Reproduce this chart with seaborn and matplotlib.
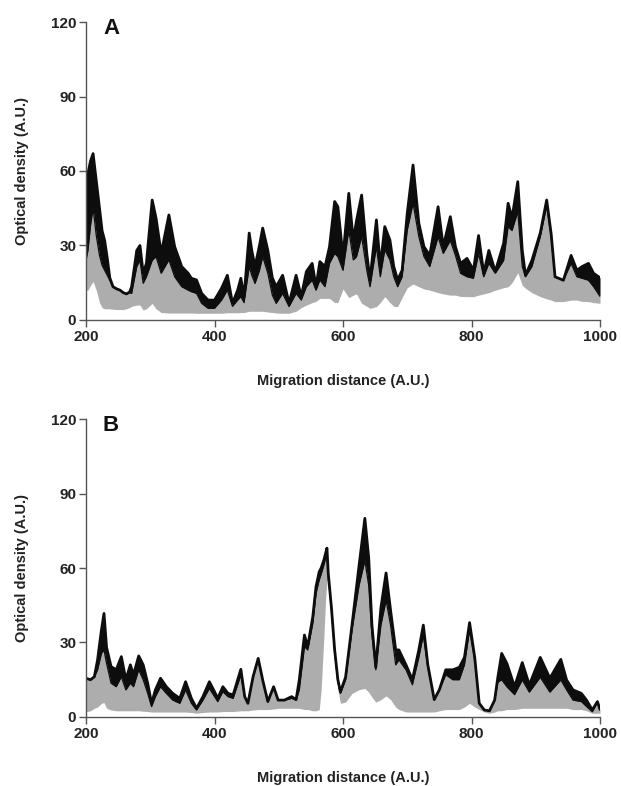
import numpy as np
import matplotlib
matplotlib.use("Agg")
import matplotlib.pyplot as plt
import seaborn as sns

# Densitometry traces.
# top = upper edge of the black band, mid = black/grey boundary, low = lower edge of the grey band

# Panel A
a_x = [200, 203, 207, 211, 216, 221, 225, 229, 233, 237,
       242, 248, 253, 258, 263, 268, 271, 279, 284, 289,
       294, 303, 309, 317, 329, 338, 349, 359, 364, 372,
       380, 390, 400, 411, 420, 428, 436, 441, 446, 454,
       458, 463, 470, 475, 483, 490, 496, 506, 516, 527,
       535, 543, 552, 558, 564, 572, 579, 587, 592, 600,
       609, 616, 621, 629, 637, 642, 652, 658, 665, 673,
       679, 685, 692, 700, 709, 718, 726, 735, 748, 756,
       767, 775, 783, 793, 803, 811, 819, 827, 837, 850,
       857, 863, 872, 879, 884, 894, 907, 917, 924, 930,
       943, 955, 964, 972, 982, 990, 1000]
a_top = [57, 59, 64, 67, 56, 45, 36, 32, 25, 17,
         13.4, 12.5, 12, 11, 10.5, 11.3, 13.4, 28, 30, 18.8,
         22.8, 48.3, 41, 26.8, 42.3, 29.5, 21.5, 18.8, 16.8, 16.1,
         10.7, 8, 8, 12.8, 18, 6.7, 12, 16.8, 9.4, 35,
         28, 21.5, 30, 37, 28, 17, 13.4, 18, 6.7, 18,
         9.4, 19.5, 22.8, 13.4, 23.5, 21.5, 29.5, 47.7, 45.6, 25.5,
         51, 32, 40, 50.3, 26.8, 16.1, 40.3, 21.5, 37.6, 32.2,
         21.5, 16.1, 20, 43, 62.4, 39, 29.5, 26, 45.6, 29.5,
         41.6, 29.5, 22.8, 24.8, 20, 34, 18.8, 28, 19.5, 30.9,
         47, 41, 55.7, 28, 18, 24, 35, 48.3, 34.6, 17.4,
         16, 26, 20, 21.5, 22.8, 18.8, 17]
a_mid = [24, 28, 38, 45, 34, 26, 22, 20, 18, 16,
         13.4, 12.5, 12, 11, 10.5, 11, 10.7, 21.5, 24, 14.8,
         17.4, 24, 25.5, 18.8, 24.2, 17.4, 13.4, 12, 11.4, 10.7,
         6.7, 4.7, 4.7, 8, 12, 5.5, 8, 9.4, 7, 21.5,
         18, 14.7, 20, 25.5, 18.8, 10, 6.7, 10.7, 5.4, 10.7,
         8, 13.4, 16, 12, 16.1, 13.4, 22.8, 26.8, 25.5, 20,
         36.2, 24.2, 25.5, 33.6, 20, 13.4, 29.5, 17.4, 28.2, 24.2,
         17.4, 13.4, 17.4, 36.2, 47, 33.6, 25.5, 21.5, 33.5, 26.8,
         32, 26, 18.8, 17.4, 16.8, 26.8, 17.4, 22.8, 18.8, 24,
         37.6, 36, 43.6, 21.5, 17.4, 21.5, 33.5, 46, 33.5, 17.4,
         16, 22.8, 17.4, 16.8, 16, 13.4, 9.5]
a_low = [12, 12, 14, 15.5, 12, 7, 5, 4.5, 4.5, 4.5,
         4.3, 4.2, 4.2, 4.2, 4.5, 5, 5.5, 6, 6, 4,
         4.5, 6.7, 4.5, 3, 2.8, 2.8, 2.8, 2.8, 2.8, 2.7,
         2.7, 2.7, 2.7, 2.7, 2.9, 2.9, 2.9, 3, 3, 3.5,
         3.5, 3.5, 3.5, 3.5, 3.2, 3, 2.8, 2.7, 2.7, 3.5,
         5, 6, 7, 7.5, 8.7, 8.7, 8.7, 7, 7, 12.5,
         9, 10, 10.5, 6.7, 5.5, 4.7, 5.4, 7, 9.4, 7,
         5.5, 5.4, 9, 13, 14.5, 13.4, 12.5, 12, 11, 10.5,
         10, 10, 9.5, 9.4, 9.4, 10, 10.5, 11, 12, 13,
         13.4, 15, 19, 14, 12.8, 11, 9.4, 8.5, 8, 7.4,
         7.4, 8, 8, 7.5, 7.4, 7, 6.7]

# Panel B
b_x = [200, 207, 213, 218, 224, 228, 232, 239, 247, 255, 262, 269, 274, 282, 289, 296,
       302, 308, 316, 325, 335, 346, 355, 364, 372, 382, 392, 400, 405, 413, 421, 429,
       441, 447, 452, 460, 468, 475, 483, 492, 499, 509, 520, 527, 532, 540, 545, 553,
       558, 563, 566, 570, 573, 575, 577, 582, 587, 592, 596, 604, 614, 625, 634, 640,
       645, 651, 659, 667, 674, 682, 687, 698, 708, 718, 725, 732, 742, 750, 760, 771,
       781, 789, 797, 805, 812, 820, 828, 836, 841, 847, 855, 867, 879, 890, 907, 922,
       939, 948, 958, 971, 979, 988, 996, 1000]
b_top = [15.6, 15, 16.2, 23, 35, 41.7, 28, 20.3, 19, 24.3, 15, 21, 17, 24.6, 21, 13.6,
         5.5, 10.9, 15.6, 12.2, 9.5, 7.5, 14.2, 7.5, 3.5, 8.2, 14.2, 10.2, 7.5, 12.2, 9.5, 8.9,
         19.2, 8.2, 5.5, 16.2, 23.6, 14.9, 6.2, 12.2, 6.8, 6.8, 8.2, 7, 15, 33, 28.3, 40.4,
         52.5, 58.5, 60, 63, 66, 68, 58, 44, 27, 15, 10.2, 16, 37, 61, 80, 64,
         37, 20, 44, 58, 43, 27, 27, 21, 15, 27, 37, 21, 7, 11, 19, 19,
         20, 24, 38, 24, 5.5, 2.8, 2.5, 6.8, 16, 25.6, 21.6, 12.2, 21.9, 12.9, 24, 15.6,
         23.2, 14.9, 10.9, 9.5, 6.8, 2.8, 6.2, 3]
b_mid = [15.6, 15, 16.2, 19, 25.6, 27, 21.6, 13.6, 12.2, 16.2, 10.9, 13.6, 12.2, 19, 15, 9.5,
         4.2, 8.2, 12.2, 9.5, 6.8, 5.5, 10.9, 5.5, 2.8, 6.8, 11.5, 8.2, 6.2, 10.2, 8.2, 7.5,
         16.9, 8.2, 5.5, 16.2, 23, 14.9, 6.2, 12.2, 6.8, 6.8, 7.5, 6.8, 11, 28.3, 27, 37.7,
         49.8, 55.2, 57.5, 61, 64, 66, 56.5, 43, 26, 14, 9.5, 15, 35, 53, 63, 53,
         33, 19, 37, 47, 37, 21, 23, 19, 13, 24, 33, 20, 7, 11, 17, 15,
         15, 21, 35, 23, 5.5, 2.8, 2.5, 6.8, 14, 15, 12.2, 9, 14.9, 10, 16, 10,
         14.9, 10.9, 6.8, 6.2, 4.2, 2.1, 6.2, 3]
b_low = [2.1, 2.5, 3.5, 4, 5.5, 5.8, 3.5, 2.8, 2.5, 2.5, 2.5, 2.5, 2.5, 2.5, 2.3, 2.2,
         2, 2, 2, 2, 2, 2, 2, 1.8, 1.5, 1.8, 2, 2, 2, 2.2, 2.2, 2.2,
         2.5, 2.5, 2.5, 2.8, 3, 3, 3, 3.2, 3.5, 3.5, 3.5, 3.5, 3.5, 3, 3, 2.5,
         2.5, 3, 11, 31, 48, 54.5, 56.5, 43, 26, 11, 5.5, 6, 9.5, 11, 11.5, 10,
         8, 6, 7, 8.5, 7, 4, 3, 2, 2, 2, 2, 2, 2, 2.5, 3, 3,
         3, 4, 5.5, 4, 3, 2, 1.5, 2, 2.5, 2.5, 3, 3, 3.5, 3.5, 3.5, 3.5,
         3.5, 3.5, 3, 3, 2.5, 1.5, 1.5, 1.5]

y_ticks = [0, 30, 60, 90, 120]
x_ticks = [200, 400, 600, 800, 1000]
panels = [("A", a_x, a_top, a_mid, a_low), ("B", b_x, b_top, b_mid, b_low)]

sns.set_style("ticks")
plt.rcParams['font.family'] = ['Liberation Sans', 'DejaVu Sans']
plt.rcParams['font.weight'] = 'bold'

grey = "#adadad"
ink = "#0d0d0d"

fig = plt.figure(figsize=(6.21, 7.86), dpi=100)
rects = [[0.1385, 0.5929, 0.8277, 0.3791], [0.1385, 0.0878, 0.8277, 0.3791]]

for rect, (letter, x, top, mid, low) in zip(rects, panels):
    ax = fig.add_axes(rect)
    ax.fill_between(x, low, mid, color=grey, lw=0)
    ax.fill_between(x, mid, top, color=ink, lw=0)
    # outline of the black band, heavier on its upper edge
    sns.lineplot(x=x, y=mid, ax=ax, color=ink, lw=0.9, sort=False)
    sns.lineplot(x=x, y=top, ax=ax, color=ink, lw=2.0, sort=False)

    ax.set_xlim(200, 1000)
    ax.set_ylim(0, 120)
    ax.set_xticks(x_ticks)
    ax.set_yticks(y_ticks)
    sns.despine(ax=ax)
    for side in ("left", "bottom"):
        ax.spines[side].set_color("#555555")
        ax.spines[side].set_linewidth(1.0)
    ax.tick_params(direction="out", length=5, width=1, color="#555555",
                   labelsize=11, labelcolor="#222222", pad=2)
    for lab in ax.get_xticklabels() + ax.get_yticklabels():
        lab.set_fontweight("bold")

    ax.set_xlabel("Migration distance (A.U.)", fontsize=10.5, fontweight="bold",
                  color="#222222", labelpad=22)
    ax.set_ylabel("Optical density (A.U.)", fontsize=10.5, fontweight="bold",
                  color="#222222", labelpad=16)
    ax.text(0.033, 1.015, letter, transform=ax.transAxes, ha="left", va="top",
            fontsize=16, fontweight="bold", color="#111111")

plt.savefig("out.png", dpi=100)
